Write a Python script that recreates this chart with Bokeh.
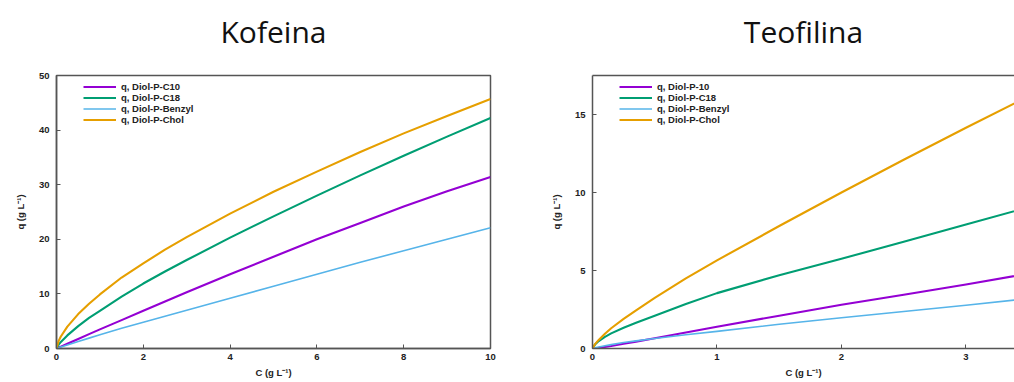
from bokeh.plotting import figure
from bokeh.layouts import row
from bokeh.models import Legend, LegendItem, LinearAxis, FixedTicker, Range1d, Title
from bokeh.embed import file_html
from bokeh.resources import INLINE

# ---------------- data ----------------
colors = ["#9400D3", "#009E73", "#56B4E9", "#E69F00"]

kof_title = "Kofeina"
kof_labels = ["q, Diol-P-C10", "q, Diol-P-C18", "q, Diol-P-Benzyl", "q, Diol-P-Chol"]
kof_c = [0, 0.05, 0.1, 0.25, 0.5, 0.75, 1, 1.5, 2, 2.5, 3, 4, 5, 6, 7, 8, 9, 10]
kof_c10 = [0, 0.17, 0.35, 0.88, 1.75, 2.63, 3.5, 5.2, 6.9, 8.6, 10.3, 13.6, 16.8, 20.0, 23.0, 26.0, 28.8, 31.4]
kof_c18 = [0, 0.7, 1.2, 2.4, 4.1, 5.6, 6.9, 9.5, 11.9, 14.1, 16.2, 20.3, 24.2, 28.0, 31.7, 35.3, 38.8, 42.2]
kof_benzyl = [0, 0.13, 0.27, 0.66, 1.3, 1.9, 2.5, 3.7, 4.8, 5.9, 7.0, 9.2, 11.4, 13.6, 15.8, 17.9, 20.0, 22.1]
kof_chol = [0, 1.4, 2.2, 4.0, 6.3, 8.2, 9.9, 13.0, 15.6, 18.1, 20.4, 24.7, 28.7, 32.4, 36.0, 39.4, 42.6, 45.7]
kof_xticks = [0, 2, 4, 6, 8, 10]
kof_yticks = [0, 10, 20, 30, 40, 50]

teo_title = "Teofilina"
teo_labels = ["q, Diol-P-10", "q, Diol-P-C18", "q, Diol-P-Benzyl", "q, Diol-P-Chol"]
teo_c = [0, 0.02, 0.05, 0.1, 0.15, 0.25, 0.35, 0.5, 0.75, 1, 1.5, 2, 2.5, 3, 3.5]
teo_c10 = [0, 0.015, 0.04, 0.1, 0.16, 0.3, 0.44, 0.66, 1.03, 1.4, 2.1, 2.8, 3.45, 4.1, 4.8]
teo_c18 = [0, 0.25, 0.48, 0.75, 0.97, 1.33, 1.65, 2.1, 2.85, 3.55, 4.7, 5.75, 6.85, 7.95, 9.05]
teo_benzyl = [0, 0.04, 0.1, 0.18, 0.25, 0.38, 0.49, 0.64, 0.88, 1.1, 1.55, 1.97, 2.37, 2.77, 3.2]
teo_chol = [0, 0.28, 0.55, 0.95, 1.3, 1.9, 2.45, 3.25, 4.5, 5.65, 7.85, 10.0, 12.1, 14.15, 16.15]
teo_xticks = [0, 1, 2, 3]
teo_yticks = [0, 5, 10, 15]

x_label = "C (g L\u207b\u00b9)"
y_label = "q (g L\u207b\u00b9)"

AX_COL = "#555555"
TICK_FONT = "Liberation Sans"


def style_axis(ax, ticks):
    ax.ticker = FixedTicker(ticks=ticks)
    ax.axis_line_color = AX_COL
    ax.axis_line_width = 1.5
    ax.major_tick_line_color = AX_COL
    ax.major_tick_in = 4
    ax.major_tick_out = 0
    ax.minor_tick_line_color = None
    ax.major_label_text_font = TICK_FONT
    ax.major_label_text_font_style = "bold"
    ax.major_label_text_font_size = "9.5px"
    ax.major_label_text_color = "#222222"
    ax.axis_label_text_font = TICK_FONT
    ax.axis_label_text_font_style = "bold"
    ax.axis_label_text_font_size = "9.5px"
    ax.axis_label_text_color = "#222222"


def make_fig(title, width, left, right, x_end, y_end, xs, ys_list, labels, xticks, yticks, boxed):
    p = figure(width=width, height=382, x_range=Range1d(0, x_end), y_range=Range1d(0, y_end),
               output_backend="svg", toolbar_location=None,
               min_border_left=left, min_border_right=right, min_border_top=75, min_border_bottom=34)
    p.grid.visible = False
    p.background_fill_color = "white"
    p.border_fill_color = "white"

    p.title.text = title
    p.title.align = "center"
    p.title.text_font = "Open Sans"
    p.title.text_font_style = "normal"
    p.title.text_font_size = "30px"
    p.title.text_color = "#111111"
    p.title.standoff = 12

    xax = p.below[0]
    yax = p.left[0]
    style_axis(xax, xticks)
    style_axis(yax, yticks)
    xax.axis_label = x_label
    yax.axis_label = y_label
    xax.major_label_standoff = 5
    xax.axis_label_standoff = 4
    yax.major_label_standoff = 7
    yax.axis_label_standoff = 10

    if boxed:
        p.outline_line_color = AX_COL
        p.outline_line_width = 1.5
    else:
        p.outline_line_color = None
        top = LinearAxis(ticker=FixedTicker(ticks=[]), axis_line_color=AX_COL, axis_line_width=1.5,
                         major_tick_in=0, major_tick_out=0, minor_tick_in=0, minor_tick_out=0,
                         major_label_text_font_size="0px", axis_label=None)
        p.add_layout(top, "above")

    # blank spacer between the title and the frame
    spacer = Title(text=" ", text_font=TICK_FONT, text_font_size="14px", standoff=0,
                   text_color="white")
    p.add_layout(spacer, "above")

    items = []
    for ys, lab, col in zip(ys_list, labels, colors):
        lw = 1.6 if col == "#56B4E9" else 2.1
        r = p.line(xs, ys, line_color=col, line_width=lw, line_join="round")
        items.append(LegendItem(label=lab, renderers=[r]))

    leg = Legend(items=items, location=(27, 223), orientation="vertical",
                 glyph_width=33, glyph_height=11, label_height=11, label_standoff=5,
                 spacing=0, padding=0, margin=0,
                 label_text_font=TICK_FONT, label_text_font_style="bold",
                 label_text_font_size="9.5px", label_text_color="#222222",
                 background_fill_alpha=0, border_line_color=None)
    p.add_layout(leg)
    return p


p1 = make_fig(kof_title, 530, 56, 40, 10, 50, kof_c,
              [kof_c10, kof_c18, kof_benzyl, kof_chol], kof_labels, kof_xticks, kof_yticks, True)
p2 = make_fig(teo_title, 484, 62, 0, 3.39, 17.5, teo_c,
              [teo_c10, teo_c18, teo_benzyl, teo_chol], teo_labels, teo_xticks, teo_yticks, False)

layout = row(p1, p2)
open("out.html", "w").write(file_html(layout, INLINE))
